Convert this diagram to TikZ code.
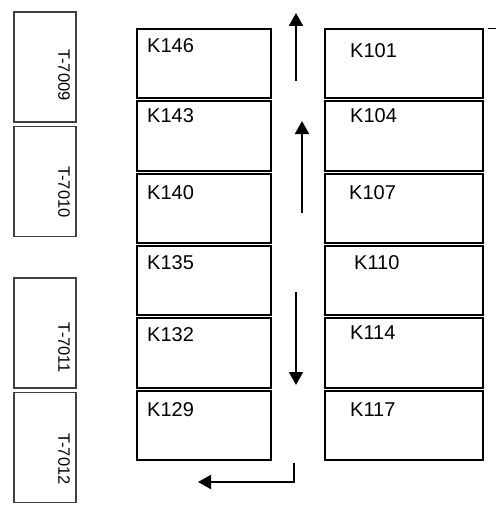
\documentclass[tikz,border=0pt]{standalone}
\usepackage{fontspec}
\setmainfont{Liberation Sans}
\usetikzlibrary{arrows.meta,positioning}

\begin{document}
\begin{tikzpicture}[
    x=1pt, y=-1pt, node distance=0.8pt,
    kbox/.style={draw, line width=2pt, minimum width=134pt,
                 minimum height=69.5pt, inner sep=0pt},
    kboxr/.style={kbox, minimum width=158pt},
    tbox/.style={draw=black!75, line width=1.6pt, minimum width=62.4pt,
                 minimum height=110pt, inner sep=0pt},
    klbl/.style={anchor=north west, inner sep=0pt,
                 font=\fontsize{20}{22}\selectfont},
    tlbl/.style={rotate=-90, inner sep=0pt,
                 font=\fontsize{16.5}{18}\selectfont},
    flow/.style={line width=2pt, -{Triangle[width=14pt,length=13pt]}}
  ]
  \useasboundingbox (0,0) rectangle (495,508);

  % left column
  \node[kbox, label={[klbl, xshift=11pt, yshift=-10pt]north west:K146}] (k146) at (204,63.75) {};
  \node[kbox, below=of k146, label={[klbl, xshift=11pt, yshift=-8pt]north west:K143}]  (k143) {};
  \node[kbox, below=of k143, label={[klbl, xshift=11pt, yshift=-13pt]north west:K140}] (k140) {};
  \node[kbox, below=of k140, label={[klbl, xshift=11pt, yshift=-10pt]north west:K135}] (k135) {};
  \node[kbox, below=of k135, label={[klbl, xshift=11pt, yshift=-10pt]north west:K132}] (k132) {};
  \node[kbox, below=of k132, label={[klbl, xshift=11pt, yshift=-13pt]north west:K129}] (k129) {};

  % right column
  \node[kboxr, label={[klbl, xshift=26pt, yshift=-15pt]north west:K101}] (k101) at (404,63.75) {};
  \node[kboxr, below=of k101, label={[klbl, xshift=26pt, yshift=-8pt]north west:K104}]  (k104) {};
  \node[kboxr, below=of k104, label={[klbl, xshift=25pt, yshift=-13pt]north west:K107}] (k107) {};
  \node[kboxr, below=of k107, label={[klbl, xshift=30pt, yshift=-10pt]north west:K110}] (k110) {};
  \node[kboxr, below=of k110, label={[klbl, xshift=26pt, yshift=-8pt]north west:K114}]  (k114) {};
  \node[kboxr, below=of k114, label={[klbl, xshift=26pt, yshift=-13pt]north west:K117}] (k117) {};

  % T boxes
  \node[tbox] (t7009) at (45,67) {};
  \node[tbox, below=3pt of t7009] (t7010) {};
  \node[tbox] (t7011) at (45,333) {};
  \node[tbox, below=3pt of t7011] (t7012) {};
  \node[tlbl] (l7009) at (64,75)  {T-7009};
  \node[tlbl] (l7010) at (64,192) {T-7010};
  \node[tlbl] (l7011) at (64,348) {T-7011};
  \node[tlbl] (l7012) at (64,459) {T-7012};

  % flow arrows
  \coordinate (up1a) at (296,81);  \coordinate (up1b) at (296,13);
  \coordinate (up2a) at (302,213); \coordinate (up2b) at (302,121);
  \coordinate (dna)  at (296,292); \coordinate (dnb)  at (296,385);
  \coordinate (ela)  at (294,463); \coordinate (elb)  at (294,482);
  \coordinate (elc)  at (198,482);
  \draw[flow] (up1a) -- (up1b);
  \draw[flow] (up2a) -- (up2b);
  \draw[flow] (dna) -- (dnb);
  \draw[flow] (ela) -- (elb) -- (elc);

  \coordinate (tk) at ([xshift=4pt, yshift=-1pt]k101.north east);
  \draw[line width=1pt] (tk) -- ++(8,0);
\end{tikzpicture}
\end{document}
